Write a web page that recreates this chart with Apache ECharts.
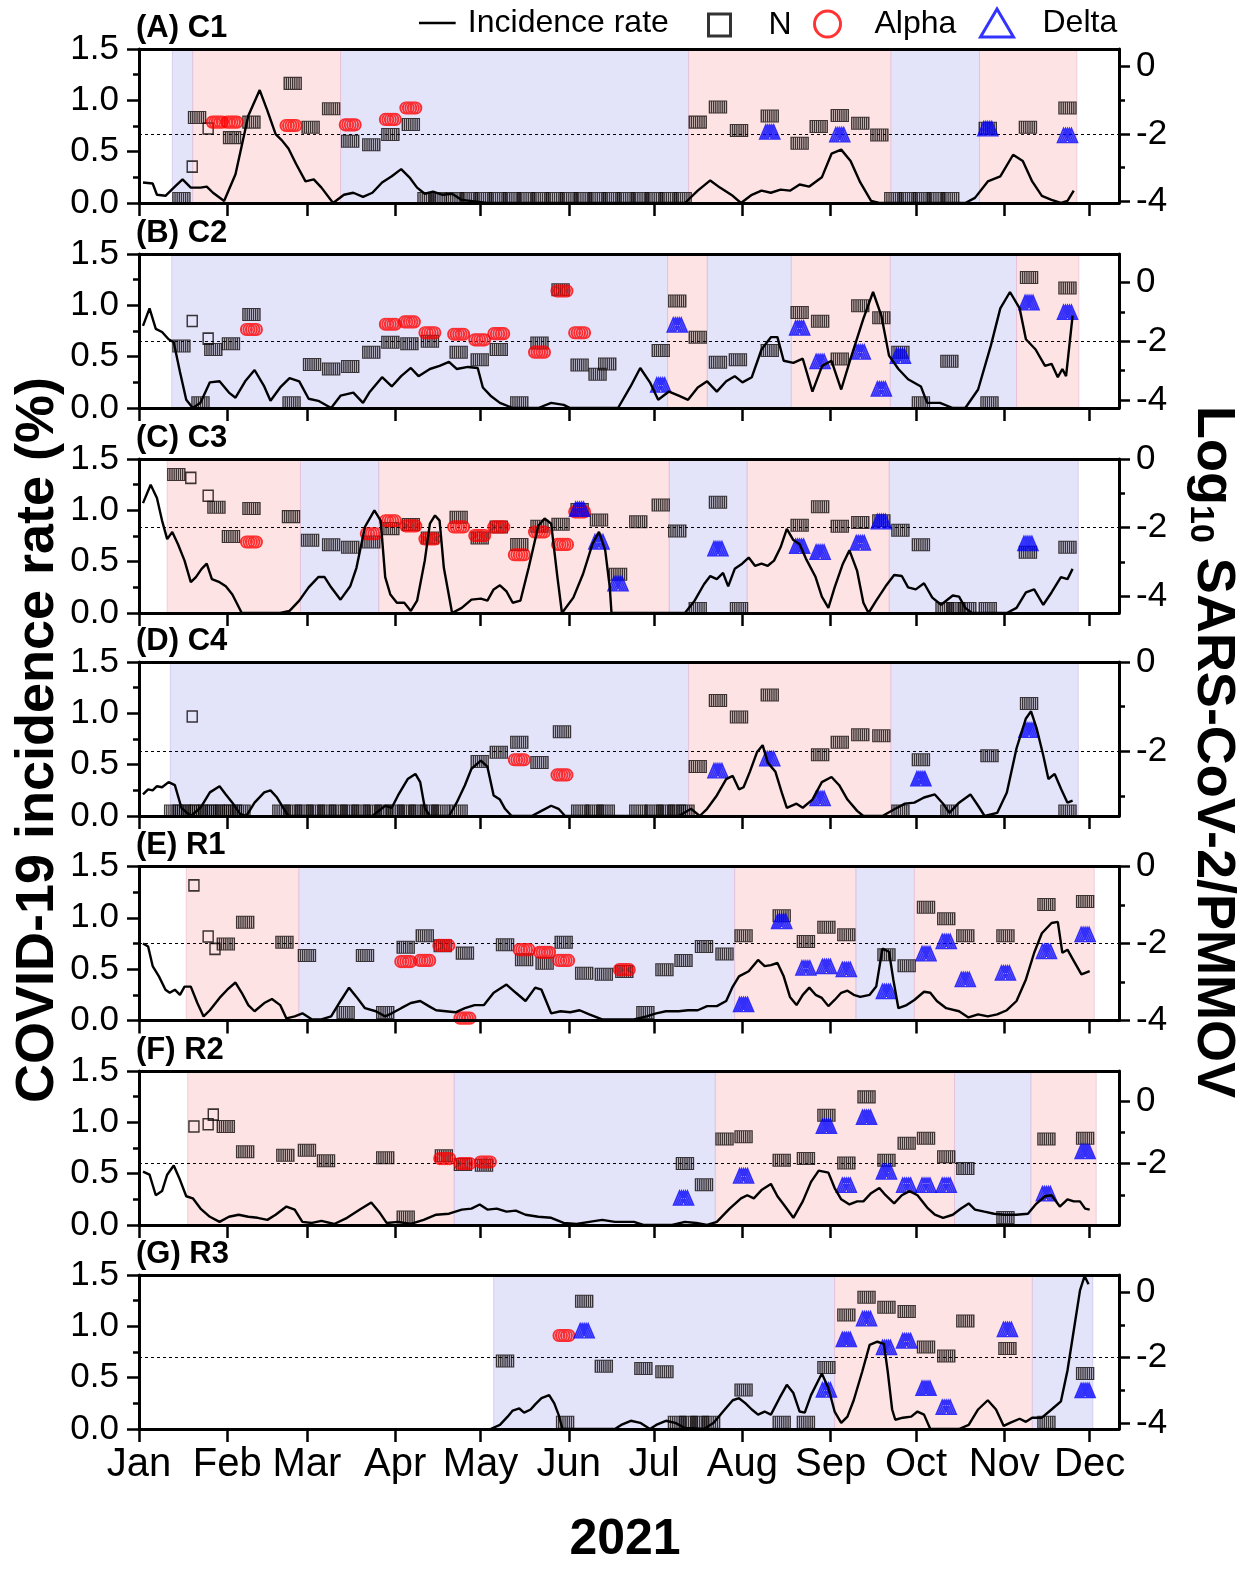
<!DOCTYPE html>
<html>
<head>
<meta charset="utf-8">
<script src="https://cdn.jsdelivr.net/npm/echarts@6/dist/echarts.min.js"></script>
<style>
  html, body { margin: 0; padding: 0; background: #fff; }
  #chart { width: 1245px; height: 1569px; }
</style>
</head>
<body>
<div id="chart"></div>
<script>
// ---- axis categories ----
const MONTHS = ['Jan', 'Feb', 'Mar', 'Apr', 'May', 'Jun', 'Jul', 'Aug', 'Sep', 'Oct', 'Nov', 'Dec'];
const MONTH_DAYS = [0, 31, 59, 90, 120, 151, 181, 212, 243, 273, 304, 334]; // day of year 2021 (Jan 1 = 0)
const RIGHT_MAJOR = [0, -2, -4];
const RIGHT_MINOR = [-1, -3];
const THRESHOLD = -2;

// ---- (A) C1 ----  incidence: [day, %]; markers: [day, log10 ratio]; periods: [startDay, endDay]
const c1Inc = [[1.4,0.20],[4.8,0.19],[6.3,0.08],[9.3,0.07],[12.6,0.16],[15.3,0.23],[18.2,0.15],[21.6,0.15],[23.8,0.16],[26.0,0.10],[29.9,0.02],[33.9,0.28],[38.4,0.85],[42.4,1.10],[45.1,0.90],[48.0,0.67],[50.2,0.61],[52.5,0.53],[55.2,0.38],[58.5,0.21],[61.4,0.23],[64.1,0.15],[68.2,0.0],[72.0,0.08],[75.3,0.10],[78.7,0.06],[82.0,0.10],[85.4,0.20],[88.8,0.26],[92.1,0.33],[95.0,0.25],[97.7,0.15],[100.4,0.09],[103.3,0.11],[106.7,0.08],[110.0,0.09],[113.4,0.03],[122.4,0.0],[191.8,0.0],[196.3,0.12],[200.7,0.22],[204.1,0.15],[208.6,0.07],[211.5,0.0],[215.3,0.08],[218.7,0.12],[222.0,0.10],[225.4,0.13],[228.7,0.12],[232.1,0.18],[235.5,0.16],[239.9,0.25],[243.3,0.48],[246.7,0.52],[250.0,0.41],[253.4,0.20],[257.2,0.02],[260.1,0.0],[290.3,0.0],[293.7,0.05],[298.2,0.21],[302.6,0.26],[307.1,0.47],[310.5,0.41],[313.8,0.21],[317.2,0.07],[320.6,0.03],[323.9,0.0],[326.2,0.02],[328.4,0.12]];
const c1N = [[14.9,-3.92],[20.4,-1.51],[32.7,-2.11],[39.5,-1.65],[54.0,-0.50],[60.3,-1.80],[67.5,-1.25],[74.2,-2.22],[81.6,-2.32],[88.3,-2.02],[95.5,-1.72],[101,-3.92],[105,-3.92],[111,-3.92],[116,-3.92],[121,-3.92],[126,-3.92],[131,-3.92],[136,-3.92],[141,-3.92],[146,-3.92],[151,-3.92],[156,-3.92],[161,-3.92],[166,-3.92],[171,-3.92],[176,-3.92],[181,-3.92],[186,-3.92],[191,-3.92],[196.3,-1.65],[203.4,-1.20],[210.8,-1.90],[221.6,-1.47],[232.1,-2.28],[238.8,-1.78],[246.2,-1.45],[253.4,-1.68],[260.1,-2.03],[265,-3.92],[270,-3.92],[275,-3.92],[280,-3.92],[285,-3.92],[298.2,-1.83],[312.3,-1.80],[326.2,-1.23]];
const c1N1 = [[18.7,-2.97],[24.3,-1.84]];
const c1Alpha = [[27.5,-1.65],[32.7,-1.65],[53.4,-1.75],[74.2,-1.73],[88.3,-1.57],[95.5,-1.23]];
const c1Delta = [[221.6,-1.95],[246.2,-2.03],[298.2,-1.85],[326.2,-2.05]];
const c1Blue = [[11.7,18.9],[70.8,193.1],[264.1,295.3]];
const c1Pink = [[18.9,70.8],[193.1,264.1],[295.3,329.5]];

// ---- (B) C2 ----
const c2Inc = [[1.4,0.80],[3.7,0.97],[5.9,0.77],[8.1,0.74],[10.4,0.67],[12.2,0.64],[14.4,0.35],[16.6,0.08],[18.9,0.0],[21.6,0.05],[24.9,0.25],[28.3,0.26],[31.6,0.15],[33.9,0.10],[37.3,0.26],[40.6,0.37],[44.0,0.21],[46.2,0.07],[49.6,0.20],[52.9,0.29],[56.3,0.26],[59.6,0.09],[63.0,0.07],[67.5,0.0],[70.8,0.12],[75.3,0.15],[78.7,0.05],[80.9,0.15],[85.4,0.30],[88.8,0.21],[92.1,0.31],[95.5,0.39],[98.2,0.31],[102.2,0.38],[105.6,0.41],[108.9,0.45],[111.6,0.38],[115.6,0.40],[119.0,0.39],[120.8,0.20],[123.5,0.12],[126.8,0.05],[131.3,0.0],[140.3,0.0],[144.8,0.05],[149.2,0.03],[151.5,0.0],[168.3,0.0],[172.7,0.21],[176.1,0.39],[179.5,0.25],[182.4,0.08],[186.2,0.16],[189.6,0.12],[192.9,0.08],[196.3,0.20],[199.6,0.26],[203.0,0.16],[206.3,0.26],[209.3,0.31],[212.0,0.25],[215.3,0.30],[218.7,0.57],[222.0,0.69],[224.3,0.69],[226.5,0.46],[229.9,0.44],[233.2,0.48],[236.6,0.16],[240.0,0.41],[243.3,0.46],[246.7,0.18],[250.0,0.48],[254.5,0.87],[257.9,1.13],[260.8,0.90],[263.5,0.51],[266.8,0.38],[270.2,0.28],[274.7,0.21],[276.9,0.05],[281.4,0.05],[285.9,0.0],[290.3,0.0],[294.8,0.18],[299.3,0.61],[302.6,0.97],[306.0,1.13],[309.4,0.97],[311.6,0.67],[315.0,0.57],[318.3,0.41],[320.6,0.43],[322.8,0.30],[324.4,0.38],[325.7,0.31],[328.0,0.90]];
const c2N = [[14.9,-2.16],[21.6,-4.09],[26.1,-2.28],[32.3,-2.08],[39.5,-1.09],[53.6,-4.09],[60.8,-2.79],[67.5,-2.94],[74.2,-2.86],[81.6,-2.37],[88.3,-2.03],[95.0,-2.08],[102.2,-2.00],[112.3,-2.37],[119.7,-2.63],[126.4,-2.28],[133.6,-4.09],[140.7,-2.06],[148.1,-0.25],[154.8,-2.81],[161.1,-3.12],[164.5,-2.77],[183.3,-2.31],[189.1,-0.63],[196.3,-1.86],[203.4,-2.71],[210.4,-2.63],[221.6,-2.31],[232.1,-1.02],[239.3,-1.32],[246.2,-2.60],[253.4,-0.79],[260.8,-1.20],[267.5,-2.37],[274.7,-4.09],[284.7,-2.68],[298.8,-4.09],[312.7,0.17],[326.2,-0.19]];
const c2N1 = [[18.7,-1.31],[24.3,-1.91]];
const c2Alpha = [[39.5,-1.60],[88.3,-1.42],[95.0,-1.34],[102.2,-1.71],[112.3,-1.76],[119.7,-1.95],[126.4,-1.74],[140.7,-2.37],[148.6,-0.29],[154.8,-1.71]];
const c2Delta = [[183.3,-3.49],[189.1,-1.45],[232.1,-1.55],[239.3,-2.69],[253.4,-2.37],[260.8,-3.63],[267.5,-2.51],[312.7,-0.69],[326.2,-1.02]];
const c2Blue = [[11.5,185.7],[199.6,229.2],[263.9,308.3]];
const c2Pink = [[185.7,199.6],[229.2,263.9],[308.3,330.2]];

// ---- (C) C3 ----
const c3Inc = [[1.4,1.07],[4.1,1.25],[6.3,1.12],[8.1,0.90],[9.9,0.72],[11.7,0.79],[13.7,0.67],[16.0,0.51],[18.2,0.30],[20.0,0.35],[22.0,0.43],[23.8,0.48],[25.6,0.33],[28.3,0.30],[30.5,0.26],[32.8,0.18],[36.1,0.0],[49.6,0.0],[52.9,0.02],[56.3,0.12],[59.6,0.25],[63.0,0.35],[65.2,0.35],[67.5,0.25],[70.8,0.13],[74.2,0.26],[76.4,0.44],[79.4,0.84],[82.7,1.00],[84.9,0.90],[86.5,0.35],[88.3,0.18],[90.6,0.10],[93.2,0.10],[95.5,0.02],[97.7,0.12],[100.4,0.51],[102.2,0.87],[104.0,0.95],[105.6,0.90],[107.1,0.44],[110.0,0.0],[113.4,0.05],[116.8,0.13],[120.1,0.14],[122.4,0.12],[124.6,0.23],[126.8,0.27],[129.1,0.21],[131.3,0.10],[134.0,0.12],[136.9,0.44],[140.3,0.85],[142.5,0.92],[144.8,0.87],[147.0,0.35],[148.6,0.0],[152.6,0.15],[156.0,0.38],[159.3,0.67],[161.6,0.79],[163.8,0.61],[165.4,0.25],[166.0,0.0],[191.8,0.0],[195.2,0.12],[198.5,0.28],[200.7,0.36],[203.0,0.33],[205.2,0.39],[207.0,0.26],[209.3,0.43],[211.9,0.48],[214.2,0.54],[216.4,0.46],[218.7,0.48],[220.9,0.46],[223.1,0.51],[225.4,0.64],[227.6,0.82],[229.9,0.71],[232.1,0.67],[234.3,0.53],[237.7,0.35],[239.9,0.16],[242.2,0.05],[244.4,0.25],[247.3,0.48],[249.6,0.61],[252.3,0.41],[254.5,0.10],[256.3,0.0],[259.0,0.12],[262.3,0.26],[265.3,0.37],[268.0,0.36],[270.2,0.25],[272.9,0.23],[275.8,0.29],[278.7,0.15],[281.8,0.08],[285.9,0.17],[288.1,0.16],[290.3,0.05],[292.6,0.0],[304.9,0.0],[308.3,0.05],[311.6,0.20],[314.5,0.23],[317.7,0.08],[320.6,0.20],[323.9,0.35],[326.2,0.33],[328.0,0.43]];
const c3N = [[13.1,-0.45],[27.2,-1.41],[32.3,-2.26],[39.5,-1.44],[53.4,-1.68],[60.1,-2.37],[67.5,-2.50],[74.2,-2.57],[81.6,-2.42],[88.3,-2.03],[95.5,-1.91],[102.2,-2.30],[112.3,-1.70],[119.7,-2.30],[126.4,-1.98],[133.6,-2.49],[140.7,-1.96],[148.1,-1.90],[154.8,-1.47],[161.6,-1.78],[168.3,-3.36],[175.4,-1.83],[183.3,-1.34],[189.1,-2.10],[196.3,-4.36],[203.4,-1.26],[210.8,-4.36],[232.1,-1.93],[239.3,-1.39],[246.2,-1.96],[253.4,-1.85],[260.8,-1.80],[267.5,-2.08],[274.7,-2.50],[283,-4.36],[287,-4.36],[291,-4.36],[298.2,-4.36],[312.3,-2.72],[326.2,-2.57]];
const c3N1 = [[18.2,-0.55],[24.3,-1.07]];
const c3Alpha = [[39.5,-2.42],[81.6,-2.18],[88.3,-1.80],[95.5,-1.95],[102.2,-2.33],[112.3,-1.98],[119.7,-2.23],[126.4,-1.98],[133.6,-2.79],[140.7,-2.13],[148.8,-2.49],[154.8,-1.54]];
const c3Delta = [[154.8,-1.47],[161.6,-2.42],[168.3,-3.64],[203.4,-2.62],[232.1,-2.55],[239.3,-2.72],[253.4,-2.45],[260.8,-1.83],[312.3,-2.47]];
const c3Blue = [[56.7,84.3],[186.2,213.7],[263.5,330.0]];
const c3Pink = [[9.9,56.7],[84.3,186.2],[213.7,263.5]];

// ---- (D) C4 ----
const c4Inc = [[1.4,0.21],[3.2,0.26],[4.8,0.25],[6.3,0.29],[8.1,0.28],[10.4,0.33],[12.6,0.30],[14.9,0.08],[18.2,0.0],[21.6,0.08],[24.9,0.23],[28.3,0.29],[30.5,0.21],[32.8,0.13],[35.5,0.02],[37.7,0.0],[40.6,0.13],[44.0,0.23],[46.2,0.25],[48.5,0.18],[50.2,0.10],[52.5,0.0],[82.0,0.0],[86.5,0.10],[88.8,0.08],[91.0,0.20],[94.4,0.36],[97.1,0.41],[98.8,0.33],[100.4,0.08],[102.2,0.0],[108.9,0.0],[111.6,0.13],[114.5,0.30],[116.8,0.46],[120.1,0.54],[122.4,0.48],[124.6,0.20],[126.8,0.16],[128.6,0.07],[130.9,0.0],[138.0,0.0],[141.4,0.05],[144.8,0.10],[147.4,0.07],[149.7,0.0],[189.6,0.0],[194.0,0.07],[197.0,0.0],[199.6,0.07],[203.0,0.20],[206.3,0.36],[208.6,0.39],[210.8,0.26],[212.4,0.28],[214.6,0.43],[217.1,0.62],[219.1,0.69],[220.9,0.52],[223.6,0.43],[225.8,0.23],[227.6,0.08],[231.0,0.12],[233.2,0.08],[236.6,0.16],[239.9,0.33],[243.3,0.38],[246.0,0.30],[248.9,0.16],[252.3,0.05],[254.5,0.0],[261.2,0.0],[265.7,0.07],[269.1,0.12],[272.4,0.13],[275.8,0.18],[279.6,0.21],[282.5,0.12],[284.7,0.03],[288.1,0.13],[292.1,0.21],[294.8,0.10],[297.1,0.0],[301.5,0.03],[304.9,0.23],[308.3,0.66],[311.6,0.95],[313.4,1.02],[315.4,0.85],[317.7,0.59],[319.5,0.36],[321.7,0.41],[324.0,0.26],[326.2,0.13],[328.0,0.15]];
const c4N = [[12,-3.34],[15,-3.34],[18,-3.34],[21,-3.34],[24,-3.34],[27,-3.34],[30,-3.34],[33,-3.34],[36,-3.34],[50,-3.34],[54,-3.34],[58,-3.34],[62,-3.34],[66,-3.34],[70,-3.34],[74,-3.34],[78,-3.34],[82,-3.34],[86,-3.34],[90,-3.34],[94,-3.34],[98,-3.34],[102,-3.34],[106,-3.34],[112.3,-3.34],[119.7,-2.23],[126.4,-2.02],[133.6,-1.80],[140.7,-2.25],[148.6,-1.56],[155,-3.34],[160,-3.34],[164,-3.34],[175.4,-3.34],[181,-3.34],[185,-3.34],[189,-3.34],[192,-3.34],[196.3,-2.34],[203.4,-0.86],[210.8,-1.23],[221.6,-0.74],[239.3,-2.08],[246.2,-1.80],[253.4,-1.63],[260.8,-1.65],[267.5,-3.34],[274.7,-2.19],[284.7,-3.34],[298.8,-2.10],[312.7,-0.93],[326.2,-3.34]];
const c4N1 = [[18.7,-1.22]];
const c4Alpha = [[133.6,-2.19],[148.6,-2.53]];
const c4Delta = [[203.4,-2.44],[221.6,-2.17],[239.3,-3.06],[274.7,-2.62],[312.7,-1.53]];
const c4Blue = [[11.0,193.1],[264.1,330.0]];
const c4Pink = [[193.1,264.1]];

// ---- (E) R1 ----
const r1Inc = [[1.4,0.75],[3.2,0.72],[4.8,0.53],[7.0,0.43],[9.3,0.30],[10.8,0.27],[12.6,0.30],[14.4,0.25],[16.0,0.33],[18.2,0.33],[20.5,0.17],[22.7,0.04],[24.9,0.10],[28.3,0.22],[31.0,0.30],[33.9,0.37],[36.1,0.27],[38.4,0.15],[40.6,0.09],[44.0,0.17],[46.7,0.21],[49.6,0.15],[51.8,0.02],[54.7,0.04],[57.4,0.07],[60.8,0.01],[64.1,0.01],[67.5,0.04],[70.8,0.19],[73.8,0.32],[76.4,0.23],[79.4,0.12],[83.2,0.09],[86.5,0.04],[88.8,0.07],[92.1,0.12],[95.5,0.17],[98.8,0.19],[101.8,0.14],[104.4,0.10],[107.8,0.09],[111.2,0.08],[114.5,0.12],[117.9,0.15],[121.2,0.15],[124.6,0.27],[129.1,0.35],[132.4,0.27],[135.8,0.19],[139.2,0.32],[141.4,0.30],[144.8,0.07],[148.1,0.09],[151.5,0.08],[154.8,0.10],[158.2,0.06],[162.7,0.01],[173.9,0.01],[178.3,0.04],[181.7,0.07],[185.1,0.09],[189.6,0.09],[192.9,0.10],[196.3,0.10],[199.6,0.14],[203.0,0.14],[206.3,0.19],[208.6,0.33],[210.8,0.43],[214.2,0.48],[217.5,0.59],[219.8,0.53],[222.0,0.54],[224.3,0.56],[226.5,0.43],[228.7,0.23],[231.0,0.15],[233.2,0.25],[235.5,0.32],[237.7,0.25],[239.9,0.22],[242.2,0.14],[244.4,0.20],[246.7,0.27],[248.9,0.29],[251.1,0.25],[253.4,0.23],[256.7,0.25],[259.0,0.33],[261.2,0.70],[263.5,0.67],[265.0,0.40],[266.8,0.12],[269.7,0.15],[272.4,0.20],[275.8,0.28],[278.0,0.27],[280.3,0.19],[283.6,0.12],[288.1,0.09],[291.4,0.03],[294.8,0.06],[298.2,0.04],[301.5,0.06],[304.9,0.10],[308.3,0.19],[311.6,0.40],[314.5,0.66],[317.2,0.85],[320.6,0.95],[322.8,0.96],[324.4,0.66],[326.2,0.69],[328.4,0.58],[331.1,0.45],[334.0,0.48]];
const r1N = [[30.5,-2.01],[37.3,-1.45],[51.1,-1.97],[59.0,-2.31],[72.6,-3.79],[79.4,-2.31],[86.5,-3.79],[93.7,-2.10],[100.4,-1.80],[106.7,-2.06],[114.5,-2.25],[128.6,-2.03],[135.3,-2.42],[142.5,-2.51],[149.2,-1.97],[156.4,-2.77],[163.3,-2.80],[170.5,-2.73],[177.9,-3.79],[184.6,-2.68],[191.3,-2.44],[198.5,-2.08],[205.7,-2.27],[212.4,-1.80],[225.8,-1.28],[234.3,-1.95],[241.5,-1.58],[248.5,-1.77],[262.6,-2.29],[269.7,-2.58],[276.5,-1.06],[283.6,-1.36],[290.3,-1.80],[304.4,-1.80],[318.8,-0.99],[332.4,-0.91]];
const r1N1 = [[19.3,-0.49],[24.3,-1.82],[26.7,-2.14]];
const r1Alpha = [[93.7,-2.47],[100.4,-2.44],[107.1,-2.05],[114.5,-3.94],[135.3,-2.16],[142.5,-2.23],[149.2,-2.44],[170.5,-2.68]];
const r1Delta = [[212.4,-3.59],[225.8,-1.43],[234.3,-2.64],[241.5,-2.60],[248.5,-2.68],[262.6,-3.25],[276.5,-2.27],[283.6,-1.95],[290.3,-2.94],[304.4,-2.77],[318.8,-2.21],[332.4,-1.77]];
const r1Blue = [[56.1,209.3],[251.8,272.4]];
const r1Pink = [[16.6,56.1],[209.3,251.8],[272.4,335.6]];

// ---- (F) R2 ----
const r2Inc = [[1.4,0.52],[3.7,0.49],[5.9,0.29],[8.1,0.33],[9.9,0.49],[12.2,0.58],[14.4,0.44],[16.6,0.28],[18.9,0.26],[21.6,0.16],[24.9,0.08],[28.3,0.03],[31.6,0.08],[35.0,0.10],[38.4,0.08],[41.7,0.07],[45.1,0.05],[48.0,0.10],[51.8,0.18],[54.7,0.15],[57.4,0.03],[60.8,0.02],[64.1,0.04],[68.6,0.01],[73.1,0.07],[77.6,0.15],[81.6,0.22],[84.3,0.13],[87.0,0.02],[91.0,0.03],[95.5,0.01],[100.0,0.05],[104.4,0.10],[108.9,0.11],[113.4,0.15],[116.8,0.16],[119.7,0.20],[122.4,0.15],[125.7,0.16],[129.1,0.13],[132.4,0.14],[135.8,0.10],[140.3,0.08],[144.8,0.07],[149.2,0.02],[153.7,0.01],[158.2,0.03],[162.7,0.05],[167.2,0.03],[173.9,0.03],[177.2,0.0],[187.3,0.0],[191.8,0.03],[195.8,0.02],[199.6,0.0],[203.0,0.03],[207.5,0.16],[211.5,0.26],[213.7,0.29],[216.0,0.26],[218.7,0.34],[222.0,0.40],[224.3,0.28],[226.5,0.20],[229.9,0.07],[233.2,0.23],[236.1,0.42],[238.8,0.53],[242.2,0.51],[244.4,0.36],[246.7,0.25],[249.6,0.20],[252.3,0.23],[254.5,0.23],[257.2,0.31],[260.1,0.36],[262.3,0.29],[265.3,0.21],[268.0,0.29],[270.7,0.33],[273.5,0.29],[276.9,0.17],[279.6,0.10],[282.5,0.07],[285.9,0.10],[288.8,0.16],[291.5,0.21],[293.7,0.15],[297.0,0.13],[300.4,0.11],[303.8,0.10],[308.2,0.10],[312.3,0.11],[315.0,0.20],[318.3,0.28],[320.6,0.29],[323.5,0.18],[326.2,0.25],[328.4,0.23],[330.6,0.23],[332.4,0.16],[334.0,0.15]];
const r2N = [[30.5,-0.81],[37.3,-1.62],[51.4,-1.73],[59.0,-1.57],[65.7,-1.91],[86.5,-1.81],[93.7,-3.71],[107.1,-1.75],[113.8,-2.03],[121.2,-2.05],[191.8,-2.00],[198.5,-2.68],[205.7,-1.21],[212.4,-1.14],[225.8,-1.89],[234.3,-1.84],[241.5,-0.45],[248.5,-1.98],[255.6,0.14],[262.6,-1.89],[269.7,-1.35],[276.5,-1.19],[283.6,-1.78],[290.3,-2.16],[304.4,-3.73],[318.8,-1.21],[332.4,-1.19]];
const r2N1 = [[19.3,-0.81],[24.3,-0.74],[26.1,-0.43]];
const r2Alpha = [[107.4,-1.84],[114.5,-2.00],[121.7,-1.95]];
const r2Delta = [[191.3,-3.11],[212.4,-2.40],[241.5,-0.81],[248.5,-2.70],[255.6,-0.52],[262.6,-2.27],[269.7,-2.70],[276.5,-2.70],[283.6,-2.70],[318.8,-2.97],[332.4,-1.62]];
const r2Blue = [[110.7,202.5],[286.5,313.4]];
const r2Pink = [[17.1,110.7],[202.5,286.5],[313.4,336.3]];

// ---- (G) R3 ----
const r3Inc = [[123.5,0.0],[126.8,0.04],[129.5,0.12],[131.3,0.18],[133.6,0.20],[135.3,0.16],[137.6,0.19],[139.2,0.24],[141.4,0.30],[144.1,0.33],[145.9,0.25],[147.4,0.14],[148.8,0.0],[167.2,0.0],[169.4,0.04],[172.8,0.08],[176.1,0.06],[179.5,0.0],[181.7,0.04],[185.1,0.08],[188.4,0.06],[191.8,0.01],[198.5,0.0],[201.9,0.06],[205.2,0.17],[208.6,0.28],[210.8,0.30],[213.1,0.25],[215.3,0.19],[217.5,0.14],[219.8,0.17],[222.0,0.14],[225.0,0.30],[227.6,0.43],[229.9,0.35],[232.1,0.17],[233.9,0.16],[236.1,0.33],[238.8,0.48],[239.9,0.54],[242.2,0.40],[244.4,0.17],[246.7,0.06],[248.9,0.12],[251.1,0.28],[254.1,0.56],[256.7,0.82],[259.4,0.85],[261.7,0.83],[263.0,0.57],[264.6,0.19],[265.7,0.09],[268.4,0.11],[271.3,0.12],[273.5,0.17],[275.8,0.14],[278.0,0.0],[288.1,0.0],[291.5,0.04],[294.8,0.19],[298.2,0.28],[301.1,0.19],[303.8,0.03],[306.0,0.06],[309.4,0.10],[311.6,0.07],[313.8,0.11],[317.2,0.11],[320.6,0.19],[323.9,0.27],[326.2,0.57],[328.4,0.96],[330.6,1.35],[332.2,1.49],[333.6,1.41]];
const r3N = [[128.6,-2.10],[149.7,-3.97],[156.4,-0.27],[163.3,-2.26],[177.2,-2.33],[184.6,-2.43],[189,-3.97],[193,-3.97],[197,-3.97],[201,-3.97],[212.4,-2.99],[225.8,-3.97],[234.3,-3.97],[241.5,-2.30],[248.5,-0.69],[255.6,-0.15],[262.6,-0.46],[269.7,-0.59],[276.5,-1.67],[283.6,-1.95],[290.3,-0.88],[305.1,-1.72],[318.8,-3.97],[332.4,-2.48]];
const r3N1 = [];
const r3Alpha = [[149.3,-1.32]];
const r3Delta = [[156.4,-1.18],[241.5,-2.99],[248.5,-1.45],[255.6,-0.81],[262.6,-1.69],[269.7,-1.49],[276.5,-2.94],[283.6,-3.52],[305.1,-1.14],[332.4,-3.01]];
const r3Blue = [[124.6,244.4],[313.8,335.1]];
const r3Pink = [[244.4,313.8]];

const PANELS = [
  { label: '(A) C1', inc: c1Inc, n: c1N, n1: c1N1, alpha: c1Alpha, delta: c1Delta, blue: c1Blue, pink: c1Pink },
  { label: '(B) C2', inc: c2Inc, n: c2N, n1: c2N1, alpha: c2Alpha, delta: c2Delta, blue: c2Blue, pink: c2Pink },
  { label: '(C) C3', inc: c3Inc, n: c3N, n1: c3N1, alpha: c3Alpha, delta: c3Delta, blue: c3Blue, pink: c3Pink },
  { label: '(D) C4', inc: c4Inc, n: c4N, n1: c4N1, alpha: c4Alpha, delta: c4Delta, blue: c4Blue, pink: c4Pink },
  { label: '(E) R1', inc: r1Inc, n: r1N, n1: r1N1, alpha: r1Alpha, delta: r1Delta, blue: r1Blue, pink: r1Pink },
  { label: '(F) R2', inc: r2Inc, n: r2N, n1: r2N1, alpha: r2Alpha, delta: r2Delta, blue: r2Blue, pink: r2Pink },
  { label: '(G) R3', inc: r3Inc, n: r3N, n1: r3N1, alpha: r3Alpha, delta: r3Delta, blue: r3Blue, pink: r3Pink }
];

// ---- layout & styling ----
const FONT = '"Liberation Sans", Arial, Helvetica, sans-serif';
const GRID_LEFT = 139, GRID_W = 980, GRID_H = 154;
const GRID_TOPS = [49, 254, 459, 662, 866.5, 1071, 1275];
const RIGHT_RANGE = [[-4.05, 0.52], [-4.27, 0.97], [-4.49, 0], [-3.45, 0], [-4, 0], [-3.97, 0.97], [-4.18, 0.53]];
const X_MAX = 344.3;
const BLUE_BG = '#E3E3FA';
const PINK_BG = '#FDE3E3';

// replicate markers: offset outlines overlapping each other
const SYM_N = 'path://M0,0H16V11H0Z M2,0V11 M4,0V11 M6,0V11 M8,0V11 M10,0V11 M12,0V11 M14,0V11';
const SYM_BOX = 'path://M0,0H10V10H0Z';
const SYM_ALPHA = 'path://' + [0, 2.5, 5, 7.5, 10].map(d =>
  `M${d},5.5A5.5,5.5 0 1 1 ${d + 11},5.5A5.5,5.5 0 1 1 ${d},5.5Z`).join(' ');
const SYM_DELTA = 'path://' + [0, 2, 4, 6, 8].map(d =>
  `M${d},12L${d + 6},0L${d + 12},12Z`).join(' ');
const LINE_ICON = 'path://M0,0H44V3H0Z';

const chart = echarts.init(document.getElementById('chart'), null, { renderer: 'canvas' });

const option = {
  animation: false,
  backgroundColor: '#fff',
  grid: [], xAxis: [], yAxis: [], series: [], graphic: [],
  legend: [
    { left: 419, top: 7, padding: 0, selectedMode: false, itemWidth: 43, itemHeight: 2.5,
      data: [{ name: 'Incidence rate', icon: LINE_ICON, itemStyle: { color: '#000', borderWidth: 0 } }],
      textStyle: { fontSize: 32, fontFamily: FONT, color: '#000', padding: [0, 0, 0, 4] } },
    { left: 707, top: 9, padding: 0, selectedMode: false, itemWidth: 22, itemHeight: 22,
      data: [{ name: 'N', icon: 'rect', itemStyle: { color: 'rgba(0,0,0,0)', borderColor: '#000', borderWidth: 3 } }],
      textStyle: { fontSize: 32, fontFamily: FONT, color: '#000', padding: [0, 0, 0, 33] } },
    { left: 813, top: 8, padding: 0, selectedMode: false, itemWidth: 26, itemHeight: 26,
      data: [{ name: 'Alpha', icon: 'circle', itemStyle: { color: 'rgba(0,0,0,0)', borderColor: '#ff0000', borderWidth: 3 } }],
      textStyle: { fontSize: 32, fontFamily: FONT, color: '#000', padding: [0, 0, 0, 29] } },
    { left: 979, top: 7, padding: 0, selectedMode: false, itemWidth: 33, itemHeight: 28,
      data: [{ name: 'Delta', icon: 'triangle', itemStyle: { color: 'rgba(0,0,0,0)', borderColor: '#0000ff', borderWidth: 3 } }],
      textStyle: { fontSize: 32, fontFamily: FONT, color: '#000', padding: [0, 0, 0, 24] } }
  ]
};

const n = PANELS.length;
PANELS.forEach((p, i) => {
  const top = GRID_TOPS[i];
  const [rMin, rMax] = RIGHT_RANGE[i];
  const isLast = i === n - 1;
  option.grid.push({ left: GRID_LEFT, width: GRID_W, top: top, height: GRID_H });

  // bottom time axis (month ticks), top frame edge
  option.xAxis.push({
    type: 'value', gridIndex: i, position: 'bottom', min: 0, max: X_MAX, z: 10,
    axisLine: { onZero: false, lineStyle: { color: '#000', width: 3 } },
    axisTick: { customValues: MONTH_DAYS, length: 13, lineStyle: { color: '#000', width: 2.5 } },
    axisLabel: {
      show: isLast, customValues: MONTH_DAYS, margin: 16,
      fontSize: 40, fontFamily: FONT, color: '#000',
      formatter: v => MONTHS[MONTH_DAYS.indexOf(Math.round(v))] || ''
    },
    splitLine: { show: false }
  });
  option.xAxis.push({
    type: 'value', gridIndex: i, position: 'top', min: 0, max: X_MAX, z: 10,
    axisLine: { onZero: false, lineStyle: { color: '#000', width: 3 } },
    axisTick: { show: false }, axisLabel: { show: false }, splitLine: { show: false }
  });

  // left: incidence rate
  option.yAxis.push({
    type: 'value', gridIndex: i, position: 'left', min: 0, max: 1.5, interval: 0.5, z: 10,
    axisLine: { show: true, onZero: false, lineStyle: { color: '#000', width: 3 } },
    axisTick: { show: true, length: 12, lineStyle: { color: '#000', width: 2.5 } },
    minorTick: { show: true, splitNumber: 2, length: 6, lineStyle: { color: '#000', width: 2.5 } },
    axisLabel: { margin: 20, fontSize: 35, fontFamily: FONT, color: '#000', formatter: v => v.toFixed(1) },
    splitLine: { show: false }, minorSplitLine: { show: false }
  });
  // right: log10 SARS-CoV-2/PMMOV
  const majors = RIGHT_MAJOR.filter(v => v >= rMin && v <= rMax);
  option.yAxis.push({
    type: 'value', gridIndex: i, position: 'right', min: rMin, max: rMax, z: 10,
    axisLine: { show: true, onZero: false, lineStyle: { color: '#000', width: 3 } },
    axisTick: { show: true, customValues: majors, length: 11, lineStyle: { color: '#000', width: 2.5 } },
    axisLabel: { customValues: majors, margin: 17, fontSize: 35, fontFamily: FONT, color: '#000',
      formatter: v => String(Math.round(v)) },
    splitLine: { show: false }
  });

  const xi = 2 * i, yl = 2 * i, yr = 2 * i + 1;

  // sampling periods (background)
  option.series.push({
    type: 'line', name: 'period', xAxisIndex: xi, yAxisIndex: yl, data: [], silent: true, z: 1,
    markArea: {
      silent: true,
      data: p.blue.map(b => [{ xAxis: b[0], itemStyle: { color: BLUE_BG, borderColor: 'rgba(190,170,225,0.6)', borderWidth: 0.8 } }, { xAxis: b[1] }])
        .concat(p.pink.map(b => [{ xAxis: b[0], itemStyle: { color: PINK_BG, borderColor: 'rgba(225,170,200,0.6)', borderWidth: 0.8 } }, { xAxis: b[1] }]))
    }
  });

  // N gene (replicates) + detection threshold
  option.series.push({
    type: 'scatter', name: 'N', xAxisIndex: xi, yAxisIndex: yr, data: p.n, z: 4,
    symbol: SYM_N, symbolSize: [17, 12], emphasis: { disabled: true },
    itemStyle: { color: 'rgba(0,0,0,0)', borderColor: '#0d0606', borderWidth: 1.2 },
    markLine: {
      silent: true, symbol: ['none', 'none'], label: { show: false },
      lineStyle: { color: '#000', width: 1, type: [3, 3] },
      data: [{ yAxis: THRESHOLD }]
    }
  });
  option.series.push({
    type: 'scatter', name: 'N', xAxisIndex: xi, yAxisIndex: yr, data: p.n1, z: 4,
    symbol: SYM_BOX, symbolSize: [10, 11], emphasis: { disabled: true },
    itemStyle: { color: 'rgba(0,0,0,0)', borderColor: '#0d0606', borderWidth: 1.5 }
  });
  option.series.push({
    type: 'scatter', name: 'Alpha', xAxisIndex: xi, yAxisIndex: yr, data: p.alpha, z: 5,
    symbol: SYM_ALPHA, symbolSize: [21, 12], emphasis: { disabled: true },
    itemStyle: { color: 'rgba(0,0,0,0)', borderColor: '#ff0000', borderWidth: 1.5 }
  });
  option.series.push({
    type: 'scatter', name: 'Delta', xAxisIndex: xi, yAxisIndex: yr, data: p.delta, z: 5,
    symbol: SYM_DELTA, symbolSize: [20, 14], emphasis: { disabled: true },
    itemStyle: { color: 'rgba(0,0,0,0)', borderColor: '#0000ff', borderWidth: 1.5 }
  });
  // incidence rate
  option.series.push({
    type: 'line', name: 'Incidence rate', xAxisIndex: xi, yAxisIndex: yl, data: p.inc, z: 6,
    symbol: 'none', showSymbol: false, clip: true, emphasis: { disabled: true },
    lineStyle: { color: '#000', width: 2.4 }, itemStyle: { color: '#000' }
  });

  // panel label
  option.graphic.push({
    type: 'text', x: 136, y: top - 21, z: 20,
    style: { text: p.label, font: `bold 31px ${FONT}`, fill: '#000', align: 'left', verticalAlign: 'middle' }
  });
});

// overlay grids carrying the minor ticks of the right axes
PANELS.forEach((p, i) => {
  const [rMin, rMax] = RIGHT_RANGE[i];
  option.grid.push({ left: GRID_LEFT, width: GRID_W, top: GRID_TOPS[i], height: GRID_H });
  option.xAxis.push({ type: 'value', gridIndex: n + i, min: 0, max: X_MAX, show: false });
  option.yAxis.push({
    type: 'value', gridIndex: n + i, position: 'right', min: rMin, max: rMax, z: 10,
    axisLine: { show: false, onZero: false },
    axisTick: { show: true, customValues: RIGHT_MINOR.filter(v => v >= rMin && v <= rMax), length: 6,
      lineStyle: { color: '#000', width: 2.5 } },
    axisLabel: { show: false }, splitLine: { show: false }
  });
});

// axis titles
option.graphic.push({
  type: 'text', x: 38, y: 740, rotation: Math.PI / 2, z: 20,
  style: { text: 'COVID-19 incidence rate (%)', font: `bold 54px ${FONT}`, fill: '#000', align: 'center', verticalAlign: 'middle' }
});
option.graphic.push({
  type: 'text', x: 1213, y: 752, rotation: -Math.PI / 2, z: 20,
  style: {
    text: '{a|Log}{s|10}{a| SARS-CoV-2/PMMOV}', fill: '#000', align: 'center', verticalAlign: 'middle',
    rich: {
      a: { font: `bold 54px ${FONT}`, fill: '#000', lineHeight: 60 },
      s: { font: `bold 34px ${FONT}`, fill: '#000', lineHeight: 26, verticalAlign: 'bottom' }
    }
  }
});
option.graphic.push({
  type: 'text', x: 625, y: 1540, z: 20,
  style: { text: '2021', font: `bold 50px ${FONT}`, fill: '#000', align: 'center', verticalAlign: 'middle' }
});

chart.setOption(option);
</script>
</body>
</html>
